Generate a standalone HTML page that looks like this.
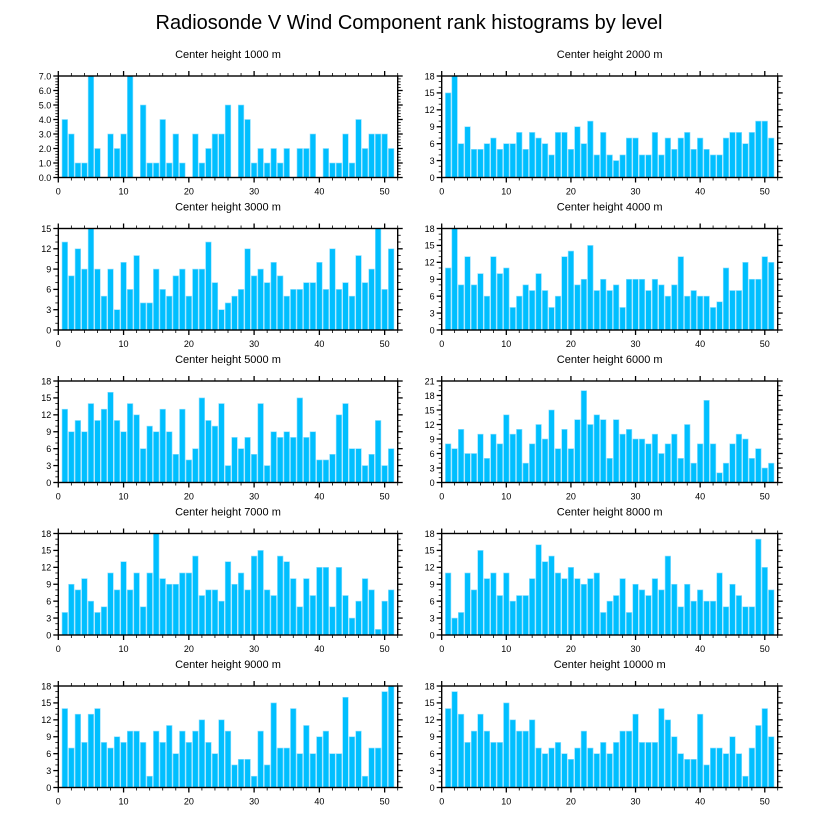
<!DOCTYPE html>
<html><head><meta charset="utf-8">
<style>
html,body{margin:0;padding:0;background:#fff;}
svg{display:block;font-family:"Liberation Sans",sans-serif;}
</style></head>
<body>
<svg id="chart" width="818" height="824" viewBox="0 0 818 824" xmlns="http://www.w3.org/2000/svg">
<text x="409" y="29" text-anchor="middle" font-size="20">Radiosonde V Wind Component rank histograms by level</text>
</svg>
<script>
const panelTitles = ["Center height 1000 m","Center height 2000 m","Center height 3000 m","Center height 4000 m","Center height 5000 m","Center height 6000 m","Center height 7000 m","Center height 8000 m","Center height 9000 m","Center height 10000 m"];
const yMaxes = [7,18,15,18,18,21,18,18,18,18];
const yMajorSteps = [1,3,3,3,3,3,3,3,3,3];
const yMinorSteps = [0.2,1,1,1,1,1,1,1,1,1];
const xTicks = [0,10,20,30,40,50];
const counts1000 = [4,3,1,1,7,2,0,3,2,3,7,0,5,1,1,4,1,3,1,0,3,1,2,3,3,5,0,5,4,1,2,1,2,1,2,0,2,2,3,0,2,1,1,3,1,4,2,3,3,3,2];
const counts2000 = [15,18,6,9,5,5,6,7,5,6,6,8,5,8,7,6,4,8,8,5,9,6,10,4,8,4,3,4,7,7,4,4,8,4,7,5,7,8,5,7,5,4,4,7,8,8,6,8,10,10,7];
const counts3000 = [13,8,12,9,15,9,5,9,3,10,6,11,4,4,9,6,5,8,9,5,9,9,13,7,3,4,5,6,12,8,9,7,10,8,5,6,6,7,7,10,6,12,6,7,5,11,7,9,15,6,12];
const counts4000 = [11,18,8,13,8,10,6,13,10,11,4,6,8,7,10,7,4,6,13,14,8,9,15,7,9,7,8,4,9,9,9,7,9,8,6,8,13,6,7,6,6,4,5,11,7,7,12,9,9,13,12];
const counts5000 = [13,9,11,9,14,11,13,16,11,9,14,12,6,10,9,13,9,5,13,4,6,15,11,10,14,3,8,6,8,5,14,3,9,8,9,8,15,8,9,4,4,5,12,14,6,6,3,5,11,3,6];
const counts6000 = [8,7,11,6,6,10,5,10,8,14,10,11,4,8,12,9,15,7,11,7,13,19,12,14,13,5,13,10,11,9,9,8,10,6,8,10,5,12,4,8,17,8,2,4,8,10,9,5,7,3,4];
const counts7000 = [4,9,8,10,6,4,5,11,8,13,8,11,5,11,18,10,9,9,11,11,14,7,8,8,6,13,9,11,8,14,15,8,7,14,13,10,5,10,7,12,12,5,12,7,3,6,10,8,1,6,8];
const counts8000 = [11,3,4,11,8,15,10,11,7,11,6,7,7,10,16,13,14,11,10,12,10,9,10,11,4,6,7,10,4,9,8,7,10,8,14,9,5,9,6,8,6,6,11,5,9,7,5,5,17,12,8];
const counts9000 = [14,7,13,8,13,14,8,7,9,8,10,10,8,2,10,8,11,6,10,8,10,12,8,6,12,10,4,5,5,2,10,4,15,7,7,14,6,11,6,9,10,6,6,16,9,10,2,7,7,17,18];
const counts10000 = [14,17,13,8,10,13,10,8,8,15,12,10,10,12,7,6,7,8,6,5,7,10,7,6,8,6,8,10,10,13,8,8,8,14,12,9,6,5,5,13,4,7,7,6,9,6,2,7,11,14,9];
const allCounts = [counts1000,counts2000,counts3000,counts4000,counts5000,counts6000,counts7000,counts8000,counts9000,counts10000];

const NS = "http://www.w3.org/2000/svg";
const svg = document.getElementById("chart");
function mk(tag, attrs, parent){
  const e = document.createElementNS(NS, tag);
  for (const k in attrs) e.setAttribute(k, attrs[k]);
  parent.appendChild(e);
  return e;
}
const colL = [58.3, 397.7], colR = [441.7, 777.7];
const X_MAX = 52;
for (let p = 0; p < 10; p++) {
  const col = p % 2, row = Math.floor(p / 2);
  const [x0, x1] = col === 0 ? colL : colR;
  const top = 76 + 152.5 * row, bot = top + 101.5;
  const yMax = yMaxes[p];
  const xs = v => x0 + (x1 - x0) * v / X_MAX;
  const ys = v => bot - (bot - top) * v / yMax;
  const g = mk("g", {}, svg);
  
  
  const t = mk("text", {x: (x0 + x1) / 2, y: top - 18, "text-anchor": "middle", "font-size": "11"}, g);
  
  
  t.textContent = panelTitles[p];
  const data = allCounts[p];
  const bw = (xs(0.86) - xs(0));
  data.forEach((v, i) => {
    if (v <= 0) return;
    const r = mk("rect", {x: xs(i + 1) - bw / 2, y: ys(v), width: bw, height: ys(0) - ys(v), fill: "#00bfff", stroke: "#8fdfff", "stroke-width": "0.6"}, g);
    
    
  });
  const frame = mk("rect", {x: x0, y: top, width: x1 - x0, height: bot - top, fill: "none", stroke: "#000", "stroke-width": "1.4"}, g);
  
  
  // x ticks
  for (let v = 0; v <= X_MAX; v += 2) {
    const major = v % 10 === 0;
    const L = major ? 5 : 3;
    mk("line", {x1: xs(v), x2: xs(v), y1: bot, y2: bot + L, stroke: "#000", "stroke-width": major ? 1.3 : 0.8}, g);
    mk("line", {x1: xs(v), x2: xs(v), y1: top, y2: top - L, stroke: "#000", "stroke-width": major ? 1.3 : 0.8}, g);
  }
  xTicks.forEach(v => {
    const l = mk("text", {x: xs(v), y: bot + 17, "text-anchor": "middle", "font-size": "9"}, g);
    
    
    l.textContent = v;
  });
  // y ticks
  const nMinor = Math.round(yMax / yMinorSteps[p]);
  const per = Math.round(yMajorSteps[p] / yMinorSteps[p]);
  for (let k = 0; k <= nMinor; k++) {
    const v = k * yMinorSteps[p];
    const major = k % per === 0;
    const L = major ? 5 : 3;
    mk("line", {x1: x0, x2: x0 - L, y1: ys(v), y2: ys(v), stroke: "#000", "stroke-width": major ? 1.3 : 0.8}, g);
    mk("line", {x1: x1, x2: x1 + L, y1: ys(v), y2: ys(v), stroke: "#000", "stroke-width": major ? 1.3 : 0.8}, g);
    if (major) {
      const l = mk("text", {x: x0 - 7, y: ys(v) + 3.3, "text-anchor": "end", "font-size": "9"}, g);
      
      
      l.textContent = yMajorSteps[p] < 3 ? v.toFixed(1) : Math.round(v);
    }
  }
}
</script>
</body></html>
